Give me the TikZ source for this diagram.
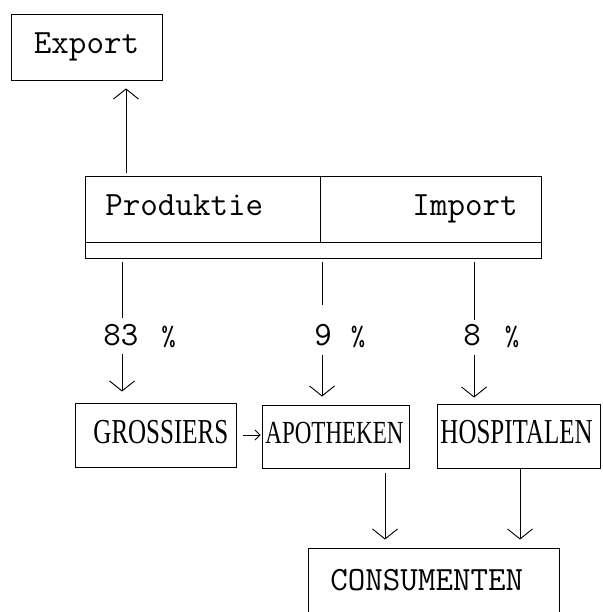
\documentclass[tikz,border=0pt]{standalone}
\usepackage{fontspec}
\usepackage{graphicx}
\newfontfamily\capsfont{Liberation Serif}
\usetikzlibrary{arrows.meta}
\newcommand{\pct}{{\fontsize{28}{32}\selectfont\%}}
\begin{document}
\begin{tikzpicture}[x=1pt,y=-1pt,
  line width=0.9pt,
  box/.style={draw, rectangle, inner sep=0pt},
  tw/.style={font=\fontsize{34}{40}\selectfont\ttfamily, inner sep=0pt},
  capt/.style={inner sep=0pt},
  arr/.style={-{Straight Barb[length=10pt,width=25pt,line width=0.9pt]}},
  smallarr/.style={-{Straight Barb[length=5pt,width=10pt,line width=0.9pt]}}]
\useasboundingbox (0,0) rectangle (602,612);
\clip (0,0) rectangle (602,612);
% Export
\node[box, tw, minimum width=151pt, minimum height=66pt] (export) at (86.5,47) {Export};
% Produktie / Import block
\node[box, minimum width=235pt, minimum height=66pt, anchor=north west] (prod) at (85,176) {};
\node[box, minimum width=221pt, minimum height=66pt, anchor=north west] (imp) at (320,176) {};
\node[box, minimum width=456pt, minimum height=16pt, anchor=north west] (strip) at (85,242) {};
\node[tw, anchor=base west] (prodtxt) at (105,215) {Produktie};
\node[tw, anchor=base east] (imptxt) at (518,215) {Import};
% percentages
\node[tw, anchor=base west] (p83) at (103,345) {83\hspace*{23pt}\pct};
\node[tw, anchor=base west] (p9) at (314,345) {9\hspace*{19pt}\pct};
\node[tw, anchor=base west] (p8) at (463,345) {8\hspace*{24pt}\pct};
% lower boxes
\node[box, minimum width=161pt, minimum height=64pt] (gross) at (155.5,435) {};
\node[box, minimum width=147pt, minimum height=63pt] (apo) at (335.5,436.5) {};
\node[box, minimum width=163pt, minimum height=64pt] (hosp) at (518.5,436) {};
\node[capt, anchor=base west] (grosstxt) at (93,443) {\fontsize{25}{28}\selectfont\capsfont\scalebox{1}[1.4]{GROSSIERS}};
\node[capt, anchor=base west] (apotxt) at (265,443) {\fontsize{23}{28}\selectfont\capsfont\scalebox{1}[1.4]{APOTHEKEN}};
\node[capt, anchor=base west] (hosptxt) at (440,443) {\fontsize{25}{28}\selectfont\capsfont\scalebox{1}[1.4]{HOSPITALEN}};
% consumenten (bottom cut off by the page edge)
\node[box, minimum width=251pt, minimum height=92pt] (cons) at (433.5,594) {};
\node[tw, anchor=base west] (constxt) at (330,590) {CONSUMENTEN};
% connectors
\coordinate (ex) at (126,173);
\draw[arr, shorten >=8pt] (ex) -- (ex |- export.south);
\coordinate (l1) at (122,262);
\coordinate (m1) at (322,262);
\coordinate (r1) at (474,262);
\draw (l1) -- ++(0,56);
\draw (m1) -- ++(0,43);
\draw (r1) -- ++(0,58);
\coordinate (l2) at (122,354);
\coordinate (m2) at (322,355);
\coordinate (r2) at (474,355);
\draw[arr, shorten >=11pt] (l2) -- (l2 |- gross.north);
\draw[arr, shorten >=8pt] (m2) -- (m2 |- apo.north);
\draw[arr, shorten >=6pt] (r2) -- (r2 |- hosp.north);
\draw[smallarr, shorten <=7pt, shorten >=1pt] (gross.east) -- (apo.west |- gross.east);
\coordinate (a1) at (385,468);
\coordinate (h1) at (520,468);
\draw[arr, shorten <=5pt, shorten >=8pt] (a1) -- (a1 |- cons.north);
\draw[arr, shorten <=1pt, shorten >=8pt] (h1) -- (h1 |- cons.north);
\end{tikzpicture}
\end{document}
